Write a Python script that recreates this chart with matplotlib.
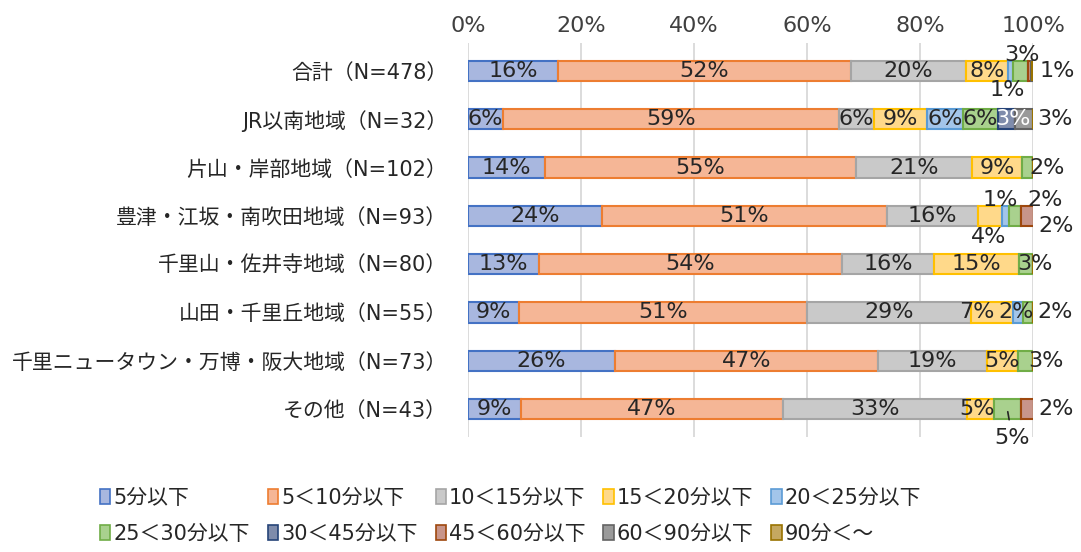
import matplotlib
matplotlib.use("Agg")
import matplotlib.pyplot as plt
from matplotlib.patches import Patch

plt.rcParams['font.family'] = ['DejaVu Sans', 'Noto Sans CJK JP']

categories = ["合計（N=478）", "JR以南地域（N=32）", "片山・岸部地域（N=102）",
              "豊津・江坂・南吹田地域（N=93）", "千里山・佐井寺地域（N=80）",
              "山田・千里丘地域（N=55）", "千里ニュータウン・万博・阪大地域（N=73）",
              "その他（N=43）"]
series_names = ["5分以下", "5＜10分以下", "10＜15分以下", "15＜20分以下", "20＜25分以下",
                "25＜30分以下", "30＜45分以下", "45＜60分以下", "60＜90分以下", "90分＜～"]

s_5 = [15.9, 6.25, 13.7, 23.7, 12.5, 9.1, 26.0, 9.3]
s_5_10 = [51.9, 59.4, 54.9, 50.5, 53.75, 50.9, 46.6, 46.5]
s_10_15 = [20.3, 6.25, 20.6, 16.1, 16.25, 29.1, 19.2, 32.6]
s_15_20 = [7.5, 9.4, 8.8, 4.3, 15.0, 7.3, 5.48, 4.7]
s_20_25 = [0.8, 6.25, 0, 1.1, 0, 1.8, 0, 0]
s_25_30 = [2.7, 6.25, 2.0, 2.2, 2.5, 1.8, 2.7, 4.7]
s_30_45 = [0, 3.1, 0, 0, 0, 0, 0, 0]
s_45_60 = [0.6, 0, 0, 2.2, 0, 0, 0, 2.3]
s_60_90 = [0.2, 3.1, 0, 0, 0, 0, 0, 0]
s_90 = [0, 0, 0, 0, 0, 0, 0, 0]
series = [s_5, s_5_10, s_10_15, s_15_20, s_20_25, s_25_30, s_30_45, s_45_60, s_60_90, s_90]

fills = ['#A8B7DF', '#F5B696', '#C9C9C9', '#FFD98A', '#A3C5EA', '#A9D18E',
         '#7F8CAB', '#C8958A', '#9A9A9A', '#C5A860']
edges = ['#4472C4', '#ED7D31', '#A5A5A5', '#FFC000', '#5B9BD5', '#70AD47',
         '#264478', '#9E480E', '#636363', '#997300']
label_colors = ['#262626'] * 6 + ['white'] + ['#262626'] * 3

# manual label offsets (pixels) for (row, series)
offsets = {
    (0, 4): (-3, -19), (0, 5): (2, 16), (0, 7): (28, 0),
    (1, 6): (6, 0), (1, 8): (31, 0),
    (2, 5): (20, 0),
    (3, 3): (-2, -21), (3, 4): (-5, 16), (3, 5): (30, 16), (3, 7): (29, -10),
    (4, 5): (9, 0),
    (5, 3): (-15, 0), (5, 4): (-2, 0), (5, 5): (27, 0),
    (6, 5): (21, 0),
    (7, 3): (-4, 0), (7, 5): (5, -29), (7, 7): (29, 0),
}
leaders = {(7, 5)}

fig = plt.figure(figsize=(10.81, 5.52), dpi=100)
ax = fig.add_axes([468 / 1081, 1 - 437 / 552, 565 / 1081, (437 - 43) / 552])

y = list(range(len(categories)))
left = [0.0] * len(categories)
for k, vals in enumerate(series):
    ax.barh(y, vals, left=left, height=0.42, color=fills[k], edgecolor=edges[k],
            linewidth=1.5, zorder=3)
    for i, v in enumerate(vals):
        lab = int(v + 0.5)
        if lab > 0:
            cx = left[i] + v / 2
            dx, dy = offsets.get((i, k), (0, 0))
            kw = {}
            if (i, k) in leaders:
                kw['arrowprops'] = dict(arrowstyle='-', color='#262626', lw=1.2,
                                        shrinkA=4, shrinkB=2)
            ax.annotate(f"{lab}%", xy=(cx, i), xytext=(dx, dy), textcoords='offset pixels',
                        ha='center', va='center', fontsize=16, color=label_colors[k],
                        zorder=5, annotation_clip=False, **kw)
    left = [l + v for l, v in zip(left, vals)]

ax.set_xlim(0, 100)
ax.set_ylim(7.58, -0.58)
ax.set_xticks([0, 20, 40, 60, 80, 100])
ax.set_xticklabels([f"{t}%" for t in [0, 20, 40, 60, 80, 100]])
ax.xaxis.tick_top()
ax.tick_params(axis='x', length=0, labelsize=16, labelcolor='#404040', pad=5)
ax.set_yticks(y)
ax.set_yticklabels(categories)
ax.tick_params(axis='y', length=0, labelsize=15, labelcolor='#262626', pad=15)
ax.grid(axis='x', color='#D9D9D9', linewidth=1.3, zorder=0)
for s in ax.spines.values():
    s.set_visible(False)

handles = [Patch(facecolor=fills[k], edgecolor=edges[k], linewidth=1.2) for k in range(10)]
ncol = 5
order = [r * ncol + c for c in range(ncol) for r in range(2)]
fig.legend([handles[j] for j in order], [series_names[j] for j in order],
           loc='upper left', bbox_to_anchor=(100 / 1081, 1 - 488 / 552),
           ncol=ncol, frameon=False, fontsize=15, handlelength=0.5, handleheight=0.7,
           handletextpad=0.15, columnspacing=0.85, labelspacing=0.75,
           labelcolor='#262626', borderpad=0, borderaxespad=0)

fig.savefig("out.png", dpi=100)
